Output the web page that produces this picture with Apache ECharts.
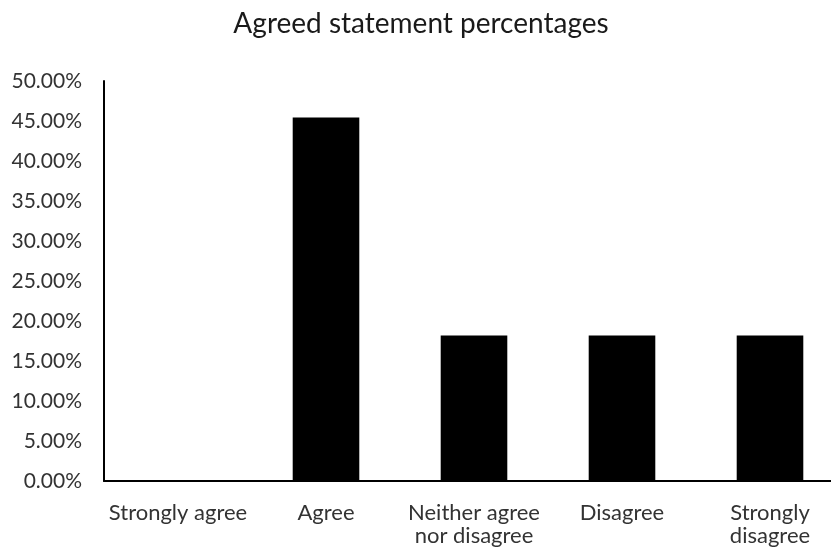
<!DOCTYPE html>
<html><head><meta charset="utf-8">
<script src="https://cdn.jsdelivr.net/npm/echarts@6/dist/echarts.min.js"></script>
<style>html,body{margin:0;padding:0;background:#fff;overflow:hidden;width:831px;height:553px}#c{width:846px;height:553px}</style>
</head><body><div id="c"></div>
<script>
const categories = ['Strongly agree', 'Agree', 'Neither agree\nnor disagree', 'Disagree', 'Strongly\ndisagree'];
const values = [0, 45.45, 18.18, 18.18, 18.18];
const yTicks = [0, 5, 10, 15, 20, 25, 30, 35, 40, 45, 50];
const titleText = 'Agreed statement percentages';

const chart = echarts.init(document.getElementById('c'));
chart.setOption({
  animation: false,
  backgroundColor: '#fff',
  title: {
    text: titleText, left: 416, top: 5, textAlign: 'center',
    textStyle: {fontFamily: 'Lato', fontSize: 28, fontWeight: 'normal', color: '#1a1a1a'}
  },
  grid: {left: 104, top: 81, width: 740, height: 400},
  xAxis: {
    type: 'category', data: categories,
    axisLine: {lineStyle: {color: '#000', width: 2}},
    axisTick: {show: false},
    axisLabel: {fontFamily: 'Lato', fontSize: 22, color: '#333', margin: 20, lineHeight: 23, interval: 0}
  },
  yAxis: {
    type: 'value', min: yTicks[0], max: yTicks[yTicks.length - 1], interval: 5,
    axisLine: {show: true, lineStyle: {color: '#000', width: 2}},
    axisTick: {show: false},
    splitLine: {show: false},
    axisLabel: {fontFamily: 'Lato', fontSize: 21, color: '#333', margin: 22,
      formatter: v => v.toFixed(2) + '%'}
  },
  series: [{
    type: 'bar', data: values, barWidth: '45%',
    itemStyle: {color: '#000'}
  }]
});
</script></body></html>
